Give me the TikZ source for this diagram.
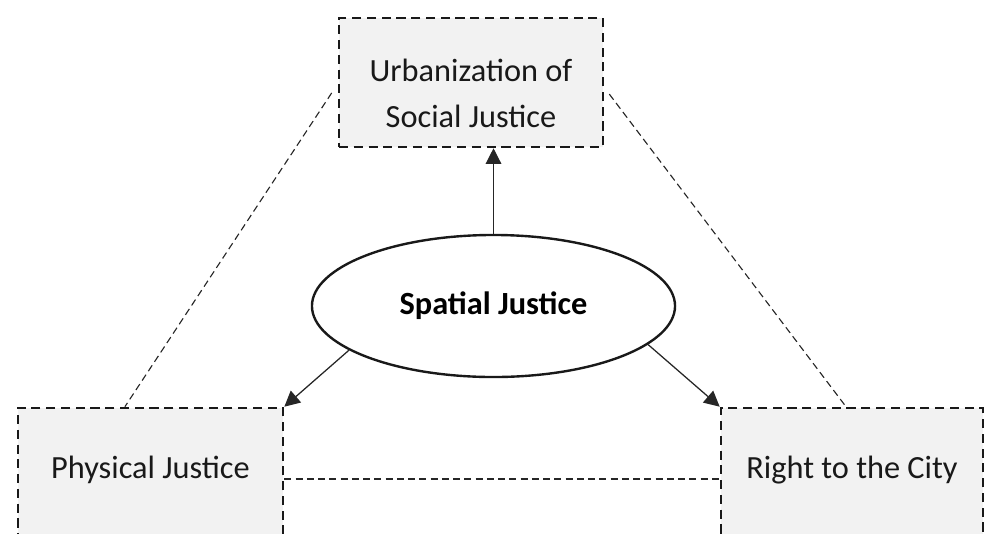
\documentclass[tikz,border=0pt]{standalone}
\usepackage{fontspec}
\setmainfont{Carlito}
\usetikzlibrary{shapes}
\usetikzlibrary{positioning}
\usetikzlibrary{arrows.meta}
\usetikzlibrary{math}

\tikzset{
  dashbox/.style={draw=black!90, line width=1.8pt, dash pattern=on 6.5pt off 4pt, fill=black!5, inner sep=0pt},
  boxtext/.style={font=\fontsize{23}{33}\selectfont, align=center, text=black!90},
  thinline/.style={draw=black!85, line width=0.8pt, dash pattern=on 5pt off 3pt},
  arrowline/.style={draw=black!85, line width=0.9pt, -{Triangle[length=11pt,width=11pt]}},
}

\begin{document}
\begin{tikzpicture}[x=0.025cm, y=-0.025cm]
      \tikzmath{
        \bw = 6.6;
        \bh = 3.225;
        \lh = 3.55;
        \ew = 9.075;
        \eh = 3.55;
      }
      \clip (0,0) rectangle (984,533);

      % boxes
      \node[dashbox, minimum width=\bw cm, minimum height=\bh cm,
            label={[boxtext, yshift=-0.275cm]center:Urbanization of\\Social Justice}] (urban) at (471,82.5) {};
      \node[dashbox, minimum width=6.625cm, minimum height=\lh cm,
            label={[boxtext, yshift=0.225cm]center:Physical Justice}] (phys) at (150.5,479) {};
      \node[dashbox, minimum width=6.55cm, minimum height=\lh cm,
            label={[boxtext, yshift=0.225cm]center:Right to the City}] (city) at (852,479) {};

      % ellipse
      \node[draw=black!90, ellipse, line width=1.7pt, inner sep=0pt, minimum width=\ew cm, minimum height=\eh cm,
            font=\bfseries\fontsize{23}{28}\selectfont] (spatial) at (493.5,306) {Spatial Justice};

      % arrows
      \draw[arrowline] (spatial.north) -- (spatial.north |- urban.south);
      \draw[arrowline] (spatial.197) -- (phys.north east);
      \draw[arrowline] (spatial.-14.5) -- (city.north west);

      % dashed links
      \draw[thinline] ([xshift=-0.15cm, yshift=-0.26cm]urban.west) -- ([xshift=-0.64cm]phys.north);
      \draw[thinline] ([xshift=0.125cm, yshift=-0.29cm]urban.east) -- ([xshift=-0.15cm]city.north);
      \draw[thinline] (phys.east) -- (city.west);

    \end{tikzpicture}
\end{document}
